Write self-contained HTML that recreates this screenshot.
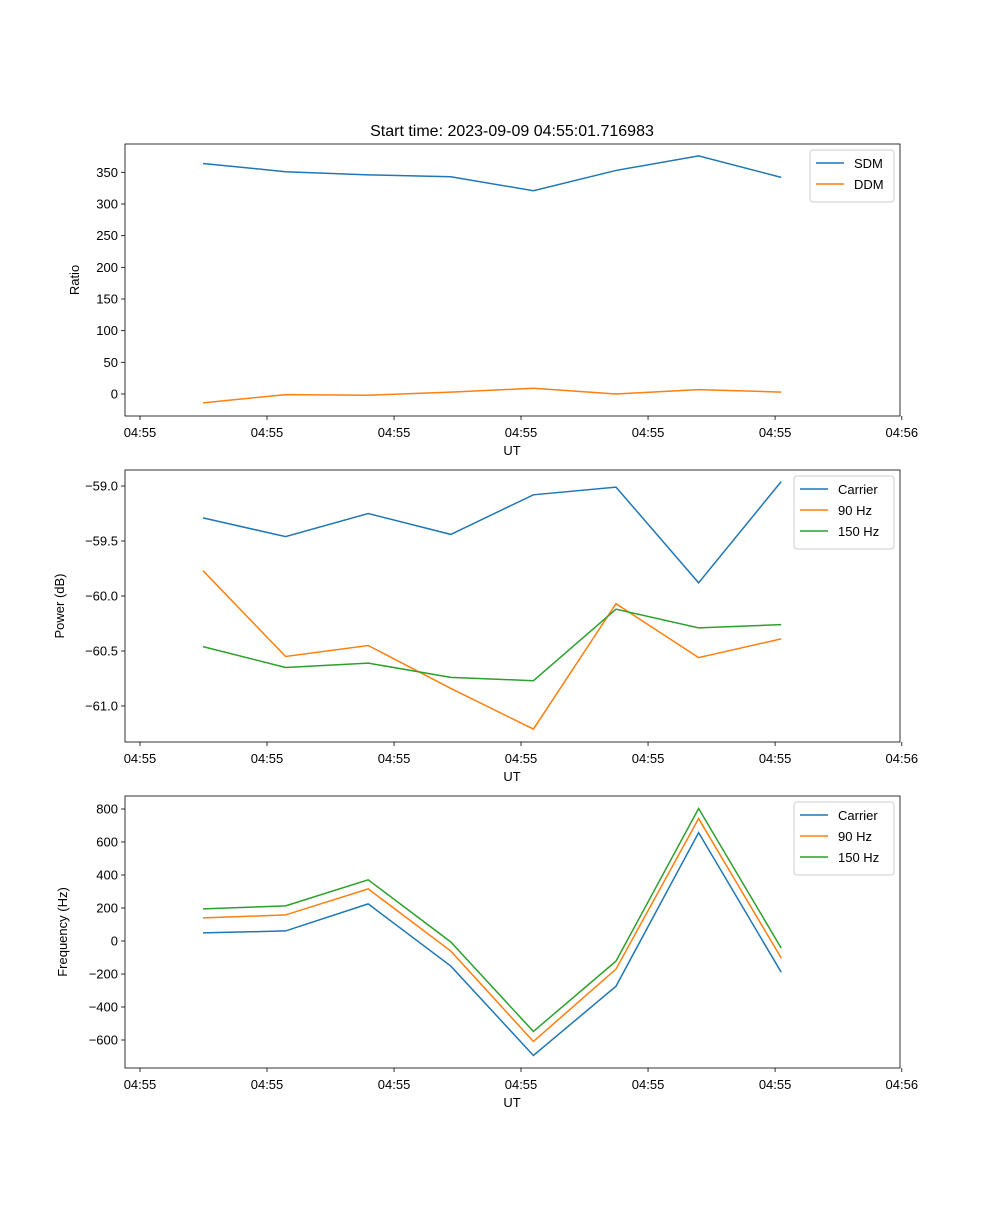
<!DOCTYPE html>
<html><head><meta charset="utf-8"><style>
body{margin:0;background:#fff}
svg text{font-family:"Liberation Sans","DejaVu Sans",sans-serif;fill:#000}
</style></head><body>
<svg id="fig" width="1000" height="1200" xmlns="http://www.w3.org/2000/svg"></svg>
<script>
const tickLabels = ["04:55","04:55","04:55","04:55","04:55","04:55","04:56"];
const tickIdx = [-0.763,0.775,2.313,3.85,5.388,6.926,8.46];
const sdm = [364,351,346,343,321,353,376,342];
const ddm = [-14,-1,-2,3,9,0,7,3];
const pCarrier = [-59.29,-59.46,-59.25,-59.44,-59.08,-59.01,-59.88,-58.96];
const p90 = [-59.77,-60.55,-60.45,-60.84,-61.21,-60.07,-60.56,-60.39];
const p150 = [-60.46,-60.65,-60.61,-60.74,-60.77,-60.12,-60.29,-60.26];
const fCarrier = [49,61,225,-152,-694,-274,657,-189];
const f90 = [140,158,316,-61,-609,-170,742,-103];
const f150 = [195,213,371,-6,-548,-122,803,-43];
const yt1 = [0,50,100,150,200,250,300,350];
const yt2 = [-61.0,-60.5,-60.0,-59.5,-59.0];
const yt3 = [-600,-400,-200,0,200,400,600,800];

const NS="http://www.w3.org/2000/svg";
const svg=document.getElementById('fig');
function mk(t,a,p){const e=document.createElementNS(NS,t);for(const k in a)e.setAttribute(k,a[k]);(p||svg).appendChild(e);return e;}
const X=i=>203+82.6*i;
const C=['#1f77b4','#ff7f0e','#2ca02c'];

function panel(name,top,yv0,ypx0,yv1,ypx1,yticks,fmt,ylabel,series,labels,legW){
  const g=mk('g',{});
  
  
  const Y=v=>ypx0+(v-yv0)*(ypx1-ypx0)/(yv1-yv0);
  const L=125,R=900,B=top+272;
  series.forEach((s,k)=>{
    const pl=mk('polyline',{points:s.map((v,i)=>X(i)+','+Y(v)).join(' '),fill:'none',stroke:C[k],'stroke-width':1.5},g);
    
    
  });
  mk('rect',{x:L,y:top,width:R-L,height:272,fill:'none',stroke:'#000','stroke-width':0.8},g);
  tickIdx.forEach((t,i)=>{
    const x=X(t);
    mk('line',{x1:x,x2:x,y1:B,y2:B+4,stroke:'#000','stroke-width':0.8},g);
    const tx=mk('text',{x:x,y:B+21,'text-anchor':'middle','font-size':13},g);tx.textContent=tickLabels[i];
    
    
  });
  yticks.forEach(v=>{
    const y=Y(v);
    mk('line',{x1:L-4,x2:L,y1:y,y2:y,stroke:'#000','stroke-width':0.8},g);
    const tx=mk('text',{x:L-7,y:y+4.5,'text-anchor':'end','font-size':13},g);tx.textContent=fmt(v);
    
    
  });
  const xl=mk('text',{x:512,y:B+39,'text-anchor':'middle','font-size':13},g);xl.textContent='UT';
  
  
  const yl=mk('text',{x:0,y:0,'text-anchor':'middle','font-size':13,transform:`translate(${ylabel[1]},${top+136}) rotate(-90)`},g);yl.textContent=ylabel[0];
  
  
  const lx=R-6-legW,ly=top+6,lh=10+labels.length*21;
  const lg=mk('g',{},g);
  
  
  mk('rect',{x:lx,y:ly,width:legW,height:lh,rx:3,fill:'#fff',stroke:'#ccc'},lg);
  labels.forEach((lb,k)=>{
    const yy=ly+13+k*21;
    mk('line',{x1:lx+6,x2:lx+34,y1:yy,y2:yy,stroke:C[k],'stroke-width':1.5},lg);
    const t=mk('text',{x:lx+44,y:yy+5,'font-size':13},lg);t.textContent=lb;
    
    
  });
}
const tt=mk('text',{x:512,y:136,'text-anchor':'middle','font-size':16});tt.textContent='Start time: 2023-09-09 04:55:01.716983';


panel('ratio-panel',144,0,394,300,204,yt1,v=>String(v),['Ratio',79],[sdm,ddm],['SDM','DDM'],84);
panel('power-panel',470,-59,486,-61,706,yt2,v=>'\u2212'+Math.abs(v).toFixed(1),['Power (dB)',64],[pCarrier,p90,p150],['Carrier','90 Hz','150 Hz'],100);
panel('frequency-panel',796,0,941,800,809,yt3,v=>(v<0?'\u2212':'')+Math.abs(v),['Frequency (Hz)',67],[fCarrier,f90,f150],['Carrier','90 Hz','150 Hz'],100);
</script>
</body></html>
